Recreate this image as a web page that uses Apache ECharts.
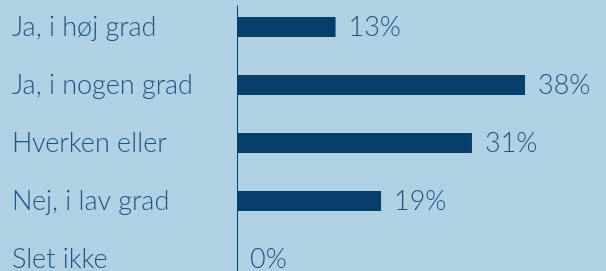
<!DOCTYPE html>
<html>
<head>
<meta charset="utf-8">
<script src="https://cdn.jsdelivr.net/npm/echarts@6/dist/echarts.min.js"></script>
<style>
  html, body { margin: 0; padding: 0; background: #b0d0e4; }
  #chart { width: 606px; height: 271px; }
</style>
</head>
<body>
<div id="chart"></div>
<script>
// svar-kategorier og andele (%)
var categories = ['Ja, i høj grad', 'Ja, i nogen grad', 'Hverken eller', 'Nej, i lav grad', 'Slet ikke'];
var values = [13, 38, 31, 19, 0];

var textColor = '#1e5580';
var barColor = '#053f6a';
var fontName = 'Lato';

var myChart = echarts.init(document.getElementById('chart'));
var option = {
	animation : false,
	backgroundColor : '#b0d0e4',
	grid : [ {
		left : 237,
		top : -2,
		width : 379,
		height : 290,
		outerBoundsMode : 'none'
	}, {
		// kun til den lodrette linje
		left : 237,
		top : 6,
		width : 379,
		bottom : 0,
		outerBoundsMode : 'none'
	} ],
	xAxis : [ {
		type : 'value',
		min : 0,
		max : 50,
		show : false
	}, {
		gridIndex : 1,
		type : 'value',
		min : 0,
		max : 50,
		show : false
	} ],
	yAxis : [ {
		type : 'category',
		data : categories,
		inverse : true,
		axisLine : { show : false },
		axisTick : { show : false },
		splitLine : { show : false },
		axisLabel : {
			align : 'left',
			margin : 225,
			color : textColor,
			fontFamily : fontName,
			fontWeight : 300,
			fontSize : 27
		}
	}, {
		gridIndex : 1,
		type : 'category',
		data : categories,
		axisLine : { show : true, lineStyle : { color : barColor, width : 1 } },
		axisTick : { show : false },
		axisLabel : { show : false },
		splitLine : { show : false }
	} ],
	series : [ {
		type : 'bar',
		data : values,
		barWidth : 20,
		itemStyle : { color : barColor },
		label : {
			show : true,
			position : 'right',
			distance : 13,
			color : textColor,
			fontFamily : fontName,
			fontWeight : 300,
			fontSize : 27,
			formatter : '{c}%'
		}
	} ]
};
myChart.setOption(option);
</script>
</body>
</html>
